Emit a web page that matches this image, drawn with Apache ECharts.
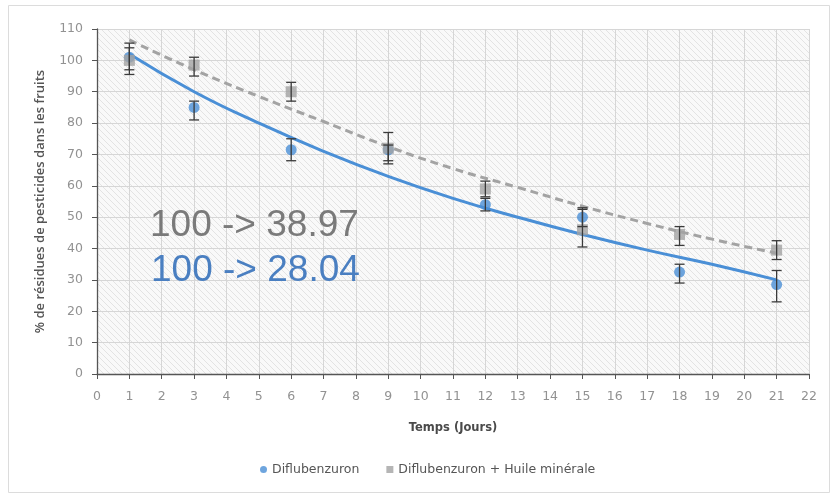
<!DOCTYPE html>
<html>
<head>
<meta charset="utf-8">
<script src="https://cdn.jsdelivr.net/npm/echarts@6/dist/echarts.min.js"></script>
<style>html,body{margin:0;padding:0;background:#fff}#c{width:832px;height:496px}</style>
</head>
<body>
<div id="c"></div>
<script>
// ---- data ----
const days = [1, 3, 6, 9, 12, 15, 18, 21];
const difluVals = [101, 85, 71.5, 71.5, 54, 50, 32.5, 28.5];
const difluLow  = [97, 81, 68, 68, 52, 47, 29, 23];
const difluHigh = [104, 87, 75, 73, 56, 53, 35, 33];
const huileVals = [100, 98.5, 90, 72, 59, 46, 44.5, 39.5];
const huileLow  = [95.5, 95, 87, 67, 56.5, 40.5, 41, 36.5];
const huileHigh = [105.5, 101, 93, 77, 61.5, 52.5, 47, 42.5];
// trend curves
const trendDays  = [1, 3, 5, 7, 9, 11, 13, 15, 17, 19, 21];
const difluTrend = [102, 90, 80, 71, 63, 56, 50, 44.5, 39.5, 35, 30];
const huileTrend = [106.5, 97, 88.5, 80.5, 72.5, 65.5, 59.5, 53.5, 48, 43, 38.5];
const xTicks = {min: 0, max: 22, step: 1};
const yTicks = {min: 0, max: 110, step: 10};
const names = ['Diflubenzuron', 'Diflubenzuron + Huile minérale'];
const annotations = ['100 -> 38.97', '100 -> 28.04'];

// hatch pattern
const pat = document.createElement('canvas');
pat.width = 6; pat.height = 6;
const pc = pat.getContext('2d');
pc.fillStyle = '#f9f9f9'; pc.fillRect(0, 0, 6, 6);
pc.strokeStyle = '#e3e3e3'; pc.lineWidth = 1;
pc.beginPath(); pc.moveTo(0, 0); pc.lineTo(6, 6); pc.stroke();
pc.beginPath(); pc.moveTo(-3, 3); pc.lineTo(3, 9); pc.stroke();
pc.beginPath(); pc.moveTo(3, -3); pc.lineTo(9, 3); pc.stroke();

const BLUE = '#4a8fd6';
const GRAY = '#a3a3a3';
const font = '"DejaVu Sans", sans-serif';

function errData(low, high) {
  return days.map((d, i) => [d, low[i], high[i]]);
}
function errRender(params, api) {
  const x = api.value(0);
  const lo = api.coord([x, api.value(1)]);
  const hi = api.coord([x, api.value(2)]);
  const w = 5;
  const st = {stroke: '#3a3a3a', lineWidth: 1.3};
  return {
    type: 'group',
    children: [
      {type: 'line', shape: {x1: lo[0], y1: lo[1], x2: hi[0], y2: hi[1]}, style: st},
      {type: 'line', shape: {x1: lo[0] - w, y1: lo[1], x2: lo[0] + w, y2: lo[1]}, style: st},
      {type: 'line', shape: {x1: hi[0] - w, y1: hi[1], x2: hi[0] + w, y2: hi[1]}, style: st}
    ]
  };
}

const chart = echarts.init(document.getElementById('c'), null, {renderer: 'canvas'});
chart.setOption({
  animation: false,
  backgroundColor: '#fff',
  grid: {left: 97, right: 23, top: 29, bottom: 122, show: true,
         backgroundColor: {image: pat, repeat: 'repeat'}, borderWidth: 0},
  xAxis: {
    type: 'value', min: xTicks.min, max: xTicks.max, interval: xTicks.step,
    name: 'Temps (Jours)', nameLocation: 'middle', nameGap: 48,
    nameTextStyle: {fontFamily: font, fontSize: 11.5, fontWeight: 'bold', color: '#4a4a4a'},
    axisLine: {show: true, lineStyle: {color: '#555', width: 1.3}},
    axisTick: {show: true, length: 5, lineStyle: {color: '#555'}},
    axisLabel: {color: '#929292', fontFamily: font, fontSize: 12.5, margin: 16},
    splitLine: {show: true, lineStyle: {color: '#d6d6d6', width: 1}}
  },
  yAxis: {
    type: 'value', min: yTicks.min, max: yTicks.max, interval: yTicks.step,
    name: '% de résidues de pesticides dans les fruits', nameLocation: 'middle', nameGap: 50,
    nameMoveOverlap: false,
    nameRotate: 90,
    nameTextStyle: {fontFamily: '"Open Sans", sans-serif', fontSize: 13, fontWeight: 600, color: '#555'},
    axisLine: {show: true, lineStyle: {color: '#555', width: 1.3}},
    axisTick: {show: true, length: 5, lineStyle: {color: '#555'}},
    axisLabel: {color: '#929292', fontFamily: font, fontSize: 12.5, margin: 14},
    splitLine: {show: true, lineStyle: {color: '#d6d6d6', width: 1}}
  },
  legend: {
    left: 255, top: 458, itemWidth: 7, itemHeight: 7, itemGap: 27,
    textStyle: {fontFamily: font, fontSize: 12.5, color: '#555'},
    data: [{name: names[0], icon: 'circle'}, {name: names[1], icon: 'rect'}]
  },
  graphic: [
    {type: 'rect', shape: {x: 8.5, y: 5.5, width: 821, height: 487}, style: {fill: 'none', stroke: '#dcdcdc', lineWidth: 1}, z: -1},
    {type: 'text', left: 150, top: 207, style: {text: annotations[0], fontFamily: 'Liberation Sans, Arial, sans-serif', fontSize: 37, fill: '#7a7a7a'}, z: 10},
    {type: 'text', left: 151, top: 252, style: {text: annotations[1], fontFamily: 'Liberation Sans, Arial, sans-serif', fontSize: 37, fill: '#4a7fc1'}, z: 10}
  ],
  series: [
    {name: 'trend1', type: 'line', data: trendDays.map((d, i) => [d, difluTrend[i]]), smooth: true,
     showSymbol: false, lineStyle: {color: BLUE, width: 3}, z: 3, silent: true},
    {name: 'trend2', type: 'line', data: trendDays.map((d, i) => [d, huileTrend[i]]), smooth: true,
     showSymbol: false, lineStyle: {color: GRAY, width: 3, type: [8, 5]}, z: 3, silent: true},
    {name: names[0], type: 'scatter', data: days.map((d, i) => [d, difluVals[i]]), symbol: 'circle', symbolSize: 11,
     itemStyle: {color: BLUE}, z: 4},
    {name: names[1], type: 'scatter', data: days.map((d, i) => [d, huileVals[i]]), symbol: 'rect', symbolSize: 11,
     itemStyle: {color: GRAY}, z: 5},
    {type: 'custom', name: 'err1', data: errData(difluLow, difluHigh), renderItem: errRender, z: 6, silent: true},
    {type: 'custom', name: 'err2', data: errData(huileLow, huileHigh), renderItem: errRender, z: 6, silent: true}
  ]
});
</script>
</body>
</html>
